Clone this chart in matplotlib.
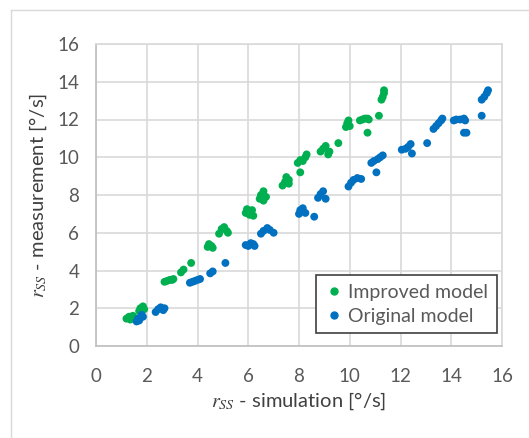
import matplotlib
matplotlib.use("Agg")
import matplotlib.pyplot as plt
from matplotlib.lines import Line2D

plt.rcParams['font.family'] = ['Lato', 'DejaVu Sans']
plt.rcParams['mathtext.fontset'] = 'stix'

# Improved model (green)
improved_x = [1.2, 1.3, 1.35, 1.45, 1.5, 1.7, 1.75, 1.85, 1.9,
              2.7, 2.8, 2.9, 3.0, 3.05,
              3.35, 3.45, 3.75,
              4.4, 4.45, 4.55, 4.6,
              4.85, 4.95, 5.05, 5.15, 5.2,
              5.9, 5.95, 6.05, 6.15, 6.2,
              6.45, 6.5, 6.6, 6.6, 6.7,
              7.35, 7.45, 7.5, 7.6, 7.6, 8.05,
              7.95, 8.05, 8.15, 8.25, 8.3,
              8.85, 8.95, 9.05, 9.15, 9.2, 9.55,
              9.85, 9.9, 9.95, 10.0,
              10.4, 10.5, 10.6, 10.7, 10.75, 10.7, 11.15,
              11.25, 11.3, 11.35, 11.35]
improved_y = [1.45, 1.55, 1.4, 1.6, 1.5, 1.85, 2.0, 2.1, 1.95,
              3.4, 3.45, 3.5, 3.5, 3.55,
              3.9, 4.05, 4.4,
              5.25, 5.4, 5.3, 5.2,
              5.95, 6.2, 6.3, 6.1, 6.0,
              7.05, 7.25, 6.95, 7.2, 6.9,
              7.8, 8.0, 8.2, 7.7, 7.9,
              8.5, 8.7, 8.95, 8.6, 8.8, 9.2,
              9.7, 9.85, 9.8, 10.0, 10.15,
              10.3, 10.45, 10.6, 10.15, 10.3, 10.75,
              11.6, 11.8, 11.95, 11.65,
              11.95, 12.0, 12.05, 12.05, 12.0, 11.3, 12.2,
              13.05, 13.2, 13.4, 13.55]

# Original model (blue)
original_x = [1.6, 1.7, 1.75, 1.85, 1.65, 1.8,
              2.35, 2.45, 2.55, 2.65, 2.7,
              3.7, 3.8, 3.9, 4.0, 4.1,
              4.5, 4.6, 5.1,
              5.9, 6.0, 6.1, 6.2, 6.25,
              6.5, 6.6, 6.75, 6.85, 7.0,
              8.0, 8.05, 8.15, 8.25, 8.6,
              8.75, 8.85, 8.95, 9.05,
              9.95, 10.05, 10.15, 10.3, 10.45, 11.05,
              10.85, 10.95, 11.1, 11.2, 11.3,
              12.05, 12.2, 12.3, 12.4, 12.45, 13.05,
              13.3, 13.4, 13.5, 13.6, 13.65,
              14.1, 14.2, 14.35, 14.5, 14.55, 14.5, 14.6, 15.2,
              15.2, 15.3, 15.4, 15.45]
original_y = [1.3, 1.35, 1.5, 1.55, 1.45, 1.65,
              1.8, 1.95, 2.05, 1.9, 2.0,
              3.35, 3.4, 3.45, 3.5, 3.55,
              3.85, 3.95, 4.4,
              5.35, 5.3, 5.45, 5.4, 5.3,
              5.95, 6.1, 6.25, 6.15, 6.0,
              7.0, 7.2, 7.3, 7.05, 6.85,
              7.85, 8.05, 8.2, 7.8,
              8.45, 8.65, 8.8, 8.9, 8.85, 9.2,
              9.7, 9.8, 9.9, 10.0, 10.1,
              10.4, 10.45, 10.55, 10.7, 10.2, 10.75,
              11.5, 11.65, 11.8, 11.95, 12.05,
              11.95, 12.0, 12.0, 12.05, 11.95, 11.3, 11.3, 12.2,
              13.05, 13.2, 13.4, 13.55]

ticks = [0, 2, 4, 6, 8, 10, 12, 14, 16]
series_labels = ['Improved model', 'Original model']
green = '#00B050'
blue = '#0070C0'

fig = plt.figure(figsize=(5.29, 4.38), dpi=100)
ax = fig.add_axes([96/529, 1 - 346/438, 406/529, 302/438])

# outer chart frame
fig.add_artist(Line2D([11/529, 1.0], [1 - 10/438, 1 - 10/438], color='#D9D9D9', lw=1.0))
fig.add_artist(Line2D([11/529, 11/529], [0.0, 1 - 10/438], color='#D9D9D9', lw=1.0))

ax.scatter(improved_x, improved_y, s=32, color=green, edgecolors='none', zorder=3)
ax.scatter(original_x, original_y, s=32, color=blue, edgecolors='none', zorder=3)

ax.set_xlim(0, 16)
ax.set_ylim(0, 16)
ax.set_xticks(ticks)
ax.set_yticks(ticks)
ax.set_xticklabels([str(t) for t in ticks])
ax.set_yticklabels([str(t) for t in ticks])
ax.grid(True, color='#D9D9D9', lw=1.2)
ax.set_axisbelow(True)
for s in ax.spines.values():
    s.set_color('#D9D9D9')
    s.set_linewidth(1.2)
ax.spines['left'].set_color('#BFBFBF')
ax.spines['bottom'].set_color('#BFBFBF')
ax.tick_params(length=0, labelsize=13.5, labelcolor='#595959')
ax.tick_params(axis='x', pad=16)
ax.tick_params(axis='y', pad=12)

ax.set_xlabel(r'$r_{SS}$' + ' - simulation [°/s]', fontsize=14.5, color='#404040', labelpad=4)
ax.set_ylabel(r'$r_{SS}$' + ' - measurement [°/s]', fontsize=14.5, color='#404040', labelpad=6)

handles = [Line2D([], [], marker='o', ls='none', color=green, markersize=5),
           Line2D([], [], marker='o', ls='none', color=blue, markersize=5)]
leg = ax.legend(handles, series_labels, loc='lower right', bbox_to_anchor=(0.987, 0.042),
                fontsize=14, labelcolor='#595959', frameon=True, fancybox=False,
                edgecolor='#404040', framealpha=1, handletextpad=0.2, handlelength=1.0,
                borderpad=0.45, labelspacing=0.35, borderaxespad=0)
leg.get_frame().set_linewidth(1.2)

fig.savefig('out.png', dpi=100, facecolor='white')
